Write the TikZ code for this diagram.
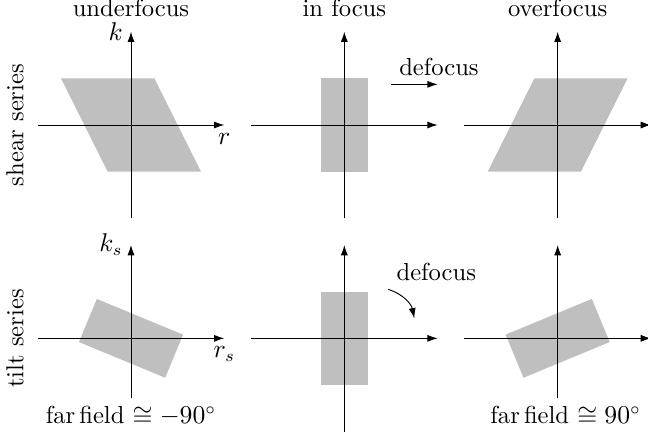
\documentclass[tikz,border=0pt]{standalone}
\usepackage{amsmath,amssymb}
\usetikzlibrary{arrows.meta}

\begin{document}
\begin{tikzpicture}[
    every node/.style={font=\fontsize{10.5}{12.6}\selectfont},
    ax/.style={-{Latex[length=4.4pt,width=3pt]},black},
    phase/.style={fill=gray!50,draw=none},
    arr/.style={-{Latex[length=4.4pt,width=3pt]},black}
  ]
  \useasboundingbox (-1.965,-4.695) rectangle (7.755,1.875);

  % shear series (top row)
  \fill[phase] (-1.05,0.7) -- (0.35,0.7) -- (1.05,-0.7) -- (-0.35,-0.7) -- cycle;
  \fill[phase] (2.85,-0.7) rectangle (3.55,0.7);
  \fill[phase] (6.05,0.7) -- (7.45,0.7) -- (6.75,-0.7) -- (5.35,-0.7) -- cycle;

  \draw[ax] (-1.4,0) -- (1.4,0) node[below] (r) {$r$};
  \draw[ax] (0,-1.4) -- (0,1.4) node[left] (k) {$k$};
  \draw[ax] (1.8,0) -- (4.6,0);
  \draw[ax] (3.2,-1.4) -- (3.2,1.4);
  \draw[ax] (5,0) -- (7.8,0);
  \draw[ax] (6.4,-1.4) -- (6.4,1.4);

  \node[anchor=base] (under) at (0,1.63) {underfocus};
  \node[anchor=base] (infoc) at (3.2,1.63) {in focus};
  \node[anchor=base] (over) at (6.4,1.63) {overfocus};
  \node[rotate=90] (shear) at (-1.74,0) {shear series};

  \coordinate (d1a) at (3.9,0.61);
  \coordinate (d1b) at (4.6,0.61);
  \draw[arr] (d1a) node[above right] (def1) {defocus} -- (d1b);

  % tilt series (bottom row)
  \fill[phase,rotate around={67.5:(0,-3.2)}] (-0.35,-3.9) rectangle (0.35,-2.5);
  \fill[phase] (2.85,-3.9) rectangle (3.55,-2.5);
  \fill[phase,rotate around={-67.5:(6.4,-3.2)}] (6.05,-3.9) rectangle (6.75,-2.5);

  \draw[ax] (-1.4,-3.2) -- (1.4,-3.2) node[below] (rs) {$r_s$};
  \draw[ax] (0,-4.1) node[below] (ff1) {far\,field $\cong -90^\circ$} -- (0,-1.8) node[left] (ks) {$k_s$};
  \draw[ax] (1.8,-3.2) -- (4.6,-3.2);
  \draw[ax] (3.2,-4.6) -- (3.2,-1.8);
  \draw[ax] (5,-3.2) -- (7.8,-3.2);
  \draw[ax] (6.4,-4.1) node[below,xshift=0.12cm] (ff2) {far\,field $\cong 90^\circ$} -- (6.4,-1.8);

  \node[rotate=90] (tilt) at (-1.74,-3.2) {tilt series};

  \coordinate (d2a) at (3.86,-2.465);
  \coordinate (d2b) at (4.25,-2.9);
  \draw[arr] (d2a) node[above right] (def2) {defocus} to[bend left=30] (d2b);
\end{tikzpicture}
\end{document}
